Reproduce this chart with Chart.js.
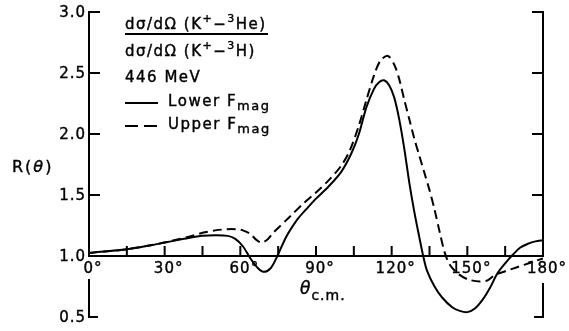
<!DOCTYPE html>
<html>
<head>
<meta charset="utf-8">
<script src="https://cdn.jsdelivr.net/npm/chart.js@4"></script>
<style>
  html, body { margin: 0; padding: 0; background: #fff; }
  #wrap { width: 569px; height: 331px; }
</style>
</head>
<body>
<div id="wrap"><canvas id="grafico" width="569" height="331"></canvas></div>
<script>
'use strict';

// valores (theta em graus, R adimensional)
const anguloLower = [0, 15, 25, 30, 35, 40, 45, 50, 55, 58, 61, 64, 67, 69.5, 72, 74, 76, 78, 80, 83, 86, 90, 95, 100, 104, 107, 110, 113, 115, 117, 119, 121, 123, 125, 127, 129, 131, 132.5, 134, 137, 140, 144, 147, 150, 153, 156, 159, 162, 165, 168, 171, 174, 177, 180];
const valorLower  = [1.025, 1.055, 1.09, 1.11, 1.13, 1.15, 1.165, 1.17, 1.165, 1.14, 1.08, 0.98, 0.9, 0.87, 0.9, 0.97, 1.06, 1.15, 1.22, 1.31, 1.38, 1.47, 1.57, 1.69, 1.84, 2.0, 2.22, 2.37, 2.425, 2.44, 2.40, 2.30, 2.12, 1.88, 1.60, 1.36, 1.15, 1.0, 0.88, 0.75, 0.66, 0.58, 0.55, 0.54, 0.57, 0.64, 0.74, 0.86, 0.94, 1.01, 1.07, 1.10, 1.12, 1.13];

const anguloUpper = [0, 15, 25, 30, 35, 40, 45, 50, 55, 58, 61, 64, 66.5, 68.5, 71, 73, 75, 78, 80, 85, 90, 95, 100, 103.5, 107, 110, 113, 115.5, 118.5, 121, 123, 125, 127, 129, 131, 133, 135, 137, 139, 141, 143, 146, 150, 155, 158, 161, 165, 170, 175, 180];
const valorUpper  = [1.025, 1.055, 1.09, 1.11, 1.135, 1.16, 1.19, 1.21, 1.22, 1.22, 1.21, 1.18, 1.13, 1.11, 1.14, 1.19, 1.23, 1.29, 1.33, 1.43, 1.52, 1.62, 1.74, 1.87, 2.07, 2.28, 2.48, 2.60, 2.64, 2.57, 2.45, 2.28, 2.12, 1.96, 1.82, 1.68, 1.54, 1.38, 1.20, 1.03, 0.93, 0.86, 0.81, 0.79, 0.80, 0.845, 0.875, 0.91, 0.945, 0.98];

const ticksY      = [3.0, 2.5, 2.0, 1.5, 1.0, 0.5];
const labelsY     = ['3.0', '2.5', '2.0', '1.5', '1.0', '0.5'];
const ticksX      = [0, 15, 30, 45, 60, 75, 90, 105, 120, 135, 150, 165, 180];
const labelsX     = ['0°', '', '30°', '', '60°', '', '90°', '', '120°', '', '150°', '', '180°'];

function pares(xs, ys)
{
    return xs.map((v, i) => ({x: v, y: ys[i]}));
}

const FONTE = '"DejaVu Sans", sans-serif';
const ESP = 1.5; // espaçamento extra entre letras (o original é bem espaçado)

// largura de um texto com espaçamento
function largura(ctx, txt, esp)
{
    let w = 0;
    for(const c of txt) w += ctx.measureText(c).width + esp;
    return w;
}

// escreve uma sequencia de pedaços [texto, deslocamento vertical, tamanho, italico]
function escrever(ctx, x, y, partes, esp)
{
    if(esp === undefined) esp = ESP;
    let px = x;
    partes.forEach(function(p){
        ctx.font = (p[3] ? 'italic ' : '') + p[2] + 'px ' + FONTE;
        for(const c of p[0])
        {
            ctx.fillText(c, px, y + p[1]);
            ctx.strokeText(c, px, y + p[1]); // engrossa um pouco o traço
            px += ctx.measureText(c).width + esp;
        }
    });
    return px;
}

const eixosPlugin = {
    id: 'eixosPlugin',
    afterDraw(chart) {
        const ctx = chart.ctx;
        const sx = chart.scales.x, sy = chart.scales.y;
        const x0 = sx.getPixelForValue(0), x1 = sx.getPixelForValue(180);
        const yTopo = sy.getPixelForValue(3.0), yUm = sy.getPixelForValue(1.0), yBase = sy.getPixelForValue(0.5);

        ctx.save();
        ctx.strokeStyle = '#000';
        ctx.fillStyle = '#000';
        ctx.lineWidth = 2;
        ctx.lineCap = 'butt';

        ctx.beginPath();
        // eixo esquerdo (com interrupção para o rótulo 0°)
        ctx.moveTo(x0, yTopo); ctx.lineTo(x0, yUm + 1);
        ctx.moveTo(x0, yUm + 23); ctx.lineTo(x0, yBase + 1);
        // eixo direito
        ctx.moveTo(x1, yTopo); ctx.lineTo(x1, yUm + 1);
        ctx.moveTo(x1, yUm + 27); ctx.lineTo(x1, yBase + 1);
        // eixo horizontal em R = 1
        ctx.moveTo(x0, yUm); ctx.lineTo(x1, yUm);

        ticksY.forEach(function(v){
            if(v === 1.0) return;
            const py = sy.getPixelForValue(v);
            const len = v === 0.5 ? 9 : 11;
            ctx.moveTo(x0 - 1, py); ctx.lineTo(x0 + len, py);
            ctx.moveTo(x1 + 1, py); ctx.lineTo(x1 - len, py);
        });
        ticksX.forEach(function(v){
            const px = sx.getPixelForValue(v);
            ctx.moveTo(px, yUm); ctx.lineTo(px, yUm - 10);
        });
        ctx.stroke();

        // linhas da legenda
        const lx = 125;
        ctx.beginPath();
        ctx.moveTo(lx, 34); ctx.lineTo(268, 34);
        ctx.moveTo(lx, 103); ctx.lineTo(lx + 33, 103);
        ctx.stroke();
        ctx.beginPath();
        ctx.setLineDash([13, 6]);
        ctx.moveTo(lx, 126); ctx.lineTo(lx + 33, 126);
        ctx.stroke();
        ctx.setLineDash([]);

        ctx.lineWidth = 0.4;
        ctx.font = '15px ' + FONTE;
        ctx.textBaseline = 'middle';
        ctx.textAlign = 'left';
        ticksY.forEach(function(v, i){
            ctx.font = '15px ' + FONTE;
            const w = largura(ctx, labelsY[i], 1) - 1;
            escrever(ctx, x0 - 4 - w, sy.getPixelForValue(v) + 1, [[labelsY[i], 0, 15, false]], 1);
        });

        ticksX.forEach(function(v, i){
            if(!labelsX[i]) return;
            ctx.font = '15px ' + FONTE;
            const w = largura(ctx, labelsX[i], 1);
            escrever(ctx, sx.getPixelForValue(v) + 4 - w / 2, yUm + 13, [[labelsX[i], 0, 15, false]], 1);
        });

        // titulo do eixo x
        const xm = sx.getPixelForValue(90);
        escrever(ctx, xm - 16, yUm + 34, [['θ', 0, 17, true], ['c.m.', 6, 14, false]], 1);
        // titulo do eixo y
        escrever(ctx, 12, sy.getPixelForValue(1.75) + 3, [['R(', 0, 16, false], ['θ', 0, 16, true], [')', 0, 16, false]], 2);

        // legenda
        escrever(ctx, lx, 25, [['dσ/dΩ (K', 0, 15, false], ['+', -6, 11, false], ['−', 0, 15, false], ['3', -6, 11, false], ['He)', 0, 15, false]]);
        escrever(ctx, lx, 52, [['dσ/dΩ (K', 0, 15, false], ['+', -6, 11, false], ['−', 0, 15, false], ['3', -6, 11, false], ['H)', 0, 15, false]]);
        escrever(ctx, lx, 78, [['446 MeV', 0, 15, false]]);
        escrever(ctx, lx + 43, 102, [['Lower F', 0, 15, false], ['mag', 5, 13, false]]);
        escrever(ctx, lx + 43, 125, [['Upper F', 0, 15, false], ['mag', 5, 13, false]]);

        ctx.restore();
    }
};

const ctx = document.getElementById('grafico');

const grafico = new Chart(ctx, {
    type: 'line',
    data: {
        datasets: [{
            label: 'Lower Fmag',
            data: pares(anguloLower, valorLower),
            borderColor: '#000',
            borderWidth: 2,
            pointRadius: 0,
            fill: false,
            tension: 0.3
        }, {
            label: 'Upper Fmag',
            data: pares(anguloUpper, valorUpper),
            borderColor: '#000',
            borderWidth: 2,
            borderDash: [9, 5],
            pointRadius: 0,
            fill: false,
            tension: 0.3
        }]
    },
    options: {
        responsive: false,
        animation: false,
        devicePixelRatio: 1,
        layout: {
            padding: {left: 89, right: 26, top: 12, bottom: 14}
        },
        scales: {
            x: {type: 'linear', min: 0, max: 180, display: false},
            y: {type: 'linear', min: 0.5, max: 3.0, display: false}
        },
        plugins: {
            legend: {display: false},
            tooltip: {enabled: false}
        }
    },
    plugins: [eixosPlugin]
});
</script>
</body>
</html>
